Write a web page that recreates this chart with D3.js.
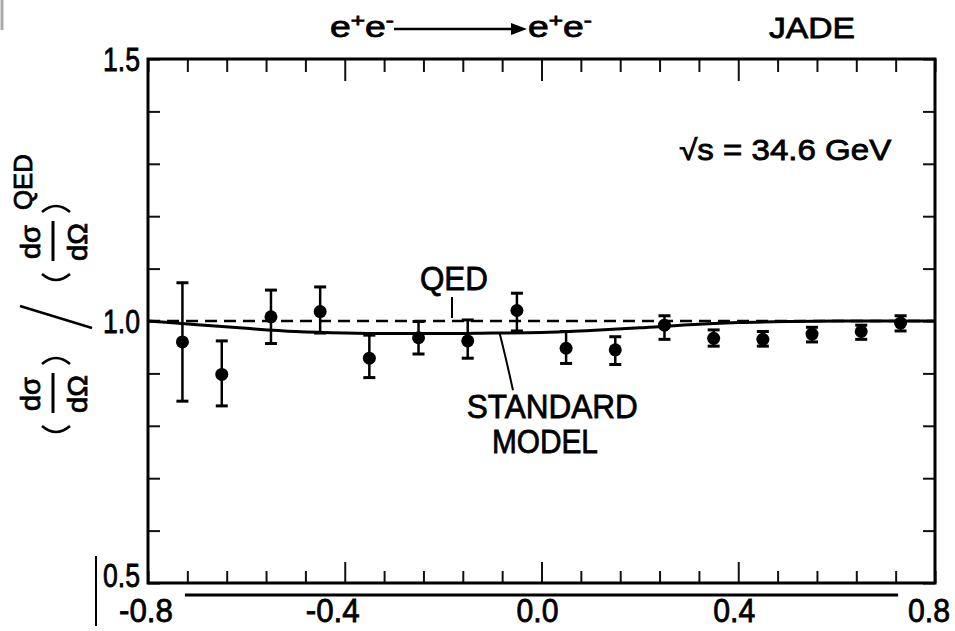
<!DOCTYPE html>
<html>
<head>
<meta charset="utf-8">
<script src="https://cdn.jsdelivr.net/npm/d3@7"></script>
<style>
  body { margin: 0; background: #fff; }
  svg { display: block; background: #fff; }
  text { font-family: "Liberation Sans", Arial, sans-serif; fill: #000; stroke: #000; stroke-width: 0.8px; }
</style>
</head>
<body>
<div id="chart"></div>
<script>
"use strict";

// JADE Bhabha scattering, ratio to QED vs cos(theta)
var cosTheta = [-0.73, -0.65, -0.55, -0.45, -0.35, -0.25, -0.15, -0.05, 0.05, 0.15, 0.25, 0.35, 0.45, 0.55, 0.65, 0.73];
var ratio    = [0.960, 0.898, 1.008, 1.018, 0.929, 0.968, 0.962, 1.020, 0.948, 0.945, 0.992, 0.967, 0.965, 0.975, 0.980, 0.996];
var errLow   = [0.847, 0.838, 0.957, 0.977, 0.892, 0.937, 0.929, 0.981, 0.919, 0.917, 0.965, 0.952, 0.952, 0.960, 0.965, 0.981];
var errHigh  = [1.073, 0.962, 1.059, 1.065, 0.973, 0.999, 1.002, 1.053, 0.980, 0.970, 1.010, 0.983, 0.980, 0.988, 0.992, 1.010];

// standard model prediction (solid) and QED (dashed)
var smCos   = [-0.8, -0.7, -0.6, -0.5, -0.4, -0.3, -0.2, -0.1, 0.0, 0.1, 0.2, 0.3, 0.4, 0.5, 0.6, 0.7, 0.8];
var smRatio = [1.000, 0.993, 0.986, 0.980, 0.977, 0.976, 0.976, 0.977, 0.978, 0.982, 0.987, 0.993, 0.997, 0.999, 1.000, 1.000, 1.000];
var qedCos   = [-0.8, 0.8];
var qedRatio = [1.0, 1.0];

// acceptance bar drawn under the axis
var acceptance = [-0.725, 0.725];

var xLabels = [-0.8, -0.4, 0.0, 0.4, 0.8];
var xMajor  = [-0.4, 0.0, 0.4];
var yLabels = [0.5, 1.0, 1.5];

var W = 955, H = 631;
var margin = { top: 59, right: 20, bottom: 48, left: 148 };
var width = W - margin.left - margin.right;
var height = H - margin.top - margin.bottom;

var svg = d3.select("#chart").append("svg")
    .attr("width", W)
    .attr("height", H);

var x = d3.scaleLinear().domain([-0.8, 0.8]).range([0, width]);
var y = d3.scaleLinear().domain([0.5, 1.5]).range([height, 0]);

var g = svg.append("g")
    .attr("transform", "translate(" + margin.left + "," + margin.top + ")");

// squeeze a text to the width it has in the scan
function fit(sel, len) {
    return sel.attr("textLength", len).attr("lengthAdjust", "spacingAndGlyphs");
}

var xMinor = d3.range(0, 21).map(function (i) { return +(-0.8 + 0.08 * i).toFixed(2); });
var yMinor = d3.range(0, 11).map(function (i) { return +(0.5 + 0.1 * i).toFixed(1); });
function isMajor(d) {
    return xMajor.some(function (m) { return Math.abs(m - d) < 1e-6; });
}

// ticks, all pointing inward
var bottomAxis = g.append("g").attr("transform", "translate(0," + height + ")")
    .call(d3.axisBottom(x).tickValues(xMinor).tickSize(-12).tickFormat(""));
bottomAxis.selectAll(".tick line").attr("y2", function (d) { return isMajor(d) ? -21 : -12; });
var topAxis = g.append("g")
    .call(d3.axisTop(x).tickValues(xMinor).tickSize(-12).tickFormat(""));
topAxis.selectAll(".tick line").attr("y2", function (d) { return isMajor(d) ? 22 : 13; });
g.append("g")
    .call(d3.axisLeft(y).tickValues(yMinor).tickSize(-12).tickFormat(""));
g.append("g").attr("transform", "translate(" + width + ",0)")
    .call(d3.axisRight(y).tickValues(yMinor).tickSize(-12).tickFormat(""));
g.selectAll(".domain").remove();
g.selectAll(".tick line").attr("stroke", "#111").attr("stroke-width", 2);

// frame
g.append("rect")
    .attr("width", width).attr("height", height)
    .attr("fill", "none").attr("stroke", "#000").attr("stroke-width", 3);

// tick labels
var fmt = function (v) { return d3.format(".1f")(v).replace("\u2212", "-"); };
g.selectAll(".xlab")
  .data(xLabels)
  .enter().append("text")
    .attr("class", "xlab")
    .attr("x", function (d) { return x(d) + (d === -0.8 ? -2 : d < 0 ? -12 : d === 0.8 ? -6 : -4); })
    .attr("y", height + 39)
    .attr("text-anchor", "middle")
    .style("font-size", "33px")
    .attr("textLength", function (d) { return d < 0 ? 54 : 42; })
    .attr("lengthAdjust", "spacingAndGlyphs")
    .text(fmt);
g.selectAll(".ylab")
  .data(yLabels)
  .enter().append("text")
    .attr("class", "ylab")
    .attr("x", -8)
    .attr("y", function (d) { return d === 0.5 ? y(d) + 4 : y(d) + 12; })
    .attr("text-anchor", "end")
    .style("font-size", "34px")
    .attr("textLength", 37)
    .attr("lengthAdjust", "spacingAndGlyphs")
    .text(fmt);

// acceptance bar below the axis
g.append("line")
    .attr("x1", x(acceptance[0])).attr("x2", x(acceptance[1]))
    .attr("y1", height + 12).attr("y2", height + 12)
    .attr("stroke", "#000").attr("stroke-width", 3);

// curves
var line = d3.line()
    .x(function (d) { return x(d[0]); })
    .y(function (d) { return y(d[1]); });
g.append("path")
    .datum(d3.zip(qedCos, qedRatio))
    .attr("d", line)
    .attr("fill", "none").attr("stroke", "#000")
    .attr("stroke-width", 2.5).attr("stroke-dasharray", "12,7");
g.append("path")
    .datum(d3.zip(smCos, smRatio))
    .attr("d", line.curve(d3.curveMonotoneX))
    .attr("fill", "none").attr("stroke", "#000").attr("stroke-width", 3);

// data points with error bars
var pts = d3.range(cosTheta.length).map(function (i) {
    return { c: cosTheta[i], r: ratio[i], lo: errLow[i], hi: errHigh[i] };
});
var pg = g.selectAll(".pt")
  .data(pts)
  .enter().append("g")
    .attr("class", "pt");
pg.append("line")
    .attr("x1", function (d) { return x(d.c); })
    .attr("x2", function (d) { return x(d.c); })
    .attr("y1", function (d) { return y(d.hi); })
    .attr("y2", function (d) { return y(d.lo); })
    .attr("stroke", "#000").attr("stroke-width", 2.5);
["hi", "lo"].forEach(function (k) {
    pg.append("line")
        .attr("x1", function (d) { return x(d.c) - 6; })
        .attr("x2", function (d) { return x(d.c) + 6; })
        .attr("y1", function (d) { return y(d[k]); })
        .attr("y2", function (d) { return y(d[k]); })
        .attr("stroke", "#000").attr("stroke-width", 3);
});
pg.append("circle")
    .attr("cx", function (d) { return x(d.c); })
    .attr("cy", function (d) { return y(d.r); })
    .attr("r", 6.5)
    .attr("fill", "#000");

// annotations
fit(g.append("text")
    .attr("x", x(-0.178)).attr("y", y(1.0) - 31)
    .attr("text-anchor", "middle")
    .style("font-size", "34px")
    .text("QED"), 68);
g.append("line")
    .attr("x1", x(-0.182)).attr("x2", x(-0.182))
    .attr("y1", y(1.0) - 24).attr("y2", y(1.0) - 3)
    .attr("stroke", "#000").attr("stroke-width", 2);
g.append("path")
    .attr("d", "M" + x(-0.085) + "," + y(0.976) + " Q" + x(-0.075) + "," + y(0.94) + " " + x(-0.058) + "," + y(0.868))
    .attr("fill", "none").attr("stroke", "#000").attr("stroke-width", 2);
fit(g.append("text")
    .attr("x", x(0.022)).attr("y", y(0.815))
    .attr("text-anchor", "middle")
    .style("font-size", "34px")
    .text("STANDARD"), 171);
fit(g.append("text")
    .attr("x", x(0.007)).attr("y", y(0.748))
    .attr("text-anchor", "middle")
    .style("font-size", "34px")
    .text("MODEL"), 106);
fit(g.append("text")
    .attr("x", x(0.28)).attr("y", y(1.308))
    .style("font-size", "29px")
    .text("\u221As = 34.6 GeV"), 212);

// title line above the frame
var title = svg.append("g");
function eePair(px) {
    var t = title.append("text").attr("x", px).attr("y", 37).style("font-size", "29px");
    t.append("tspan").text("e");
    t.append("tspan").attr("dy", -10).style("font-size", "19px").text("+");
    t.append("tspan").attr("dy", 10).text("e");
    t.append("tspan").attr("dy", -10).style("font-size", "19px").text("-");
    fit(t, 64);
}
eePair(330);
title.append("line")
    .attr("x1", 394).attr("x2", 515).attr("y1", 29).attr("y2", 29)
    .attr("stroke", "#000").attr("stroke-width", 2.5);
title.append("path")
    .attr("d", "M527,29 L511,23 L511,35 Z")
    .attr("fill", "#000");
eePair(528);
fit(title.append("text")
    .attr("x", 769).attr("y", 38)
    .style("font-size", "29px")
    .text("JADE"), 86);

// y axis title: (dσ/dΩ) / (dσ/dΩ)^QED, rotated
var yt = svg.append("g");
function rotText(px, py, str, size, len) {
    fit(yt.append("text")
        .attr("transform", "translate(" + px + "," + py + ") rotate(-90)")
        .attr("text-anchor", "middle")
        .attr("dominant-baseline", "central")
        .style("font-size", size + "px")
        .text(str), len);
}
[394, 242].forEach(function (cy) {
    rotText(30, cy, "d\u03C3", 28, 34);
    rotText(77, cy, "d\u03A9", 28, 38);
    yt.append("line")
        .attr("x1", 53).attr("x2", 53).attr("y1", cy - 21).attr("y2", cy + 19)
        .attr("stroke", "#000").attr("stroke-width", 3);
    yt.append("path")
        .attr("d", "M42," + (cy - 30) + " Q56," + (cy - 42) + " 70," + (cy - 30))
        .attr("fill", "none").attr("stroke", "#000").attr("stroke-width", 2.5);
    yt.append("path")
        .attr("d", "M42," + (cy + 32) + " Q56," + (cy + 44) + " 70," + (cy + 32))
        .attr("fill", "none").attr("stroke", "#000").attr("stroke-width", 2.5);
});
yt.append("line")
    .attr("x1", 20).attr("y1", 306).attr("x2", 92).attr("y2", 328)
    .attr("stroke", "#000").attr("stroke-width", 2.5);
rotText(23, 182, "QED", 25, 56);

// scan edge marks
svg.append("line")
    .attr("x1", 96).attr("x2", 96).attr("y1", 556).attr("y2", 626)
    .attr("stroke", "#000").attr("stroke-width", 2);
svg.append("line")
    .attr("x1", 2).attr("x2", 2).attr("y1", 0).attr("y2", 30)
    .attr("stroke", "#aaa").attr("stroke-width", 3);
</script>
</body>
</html>
